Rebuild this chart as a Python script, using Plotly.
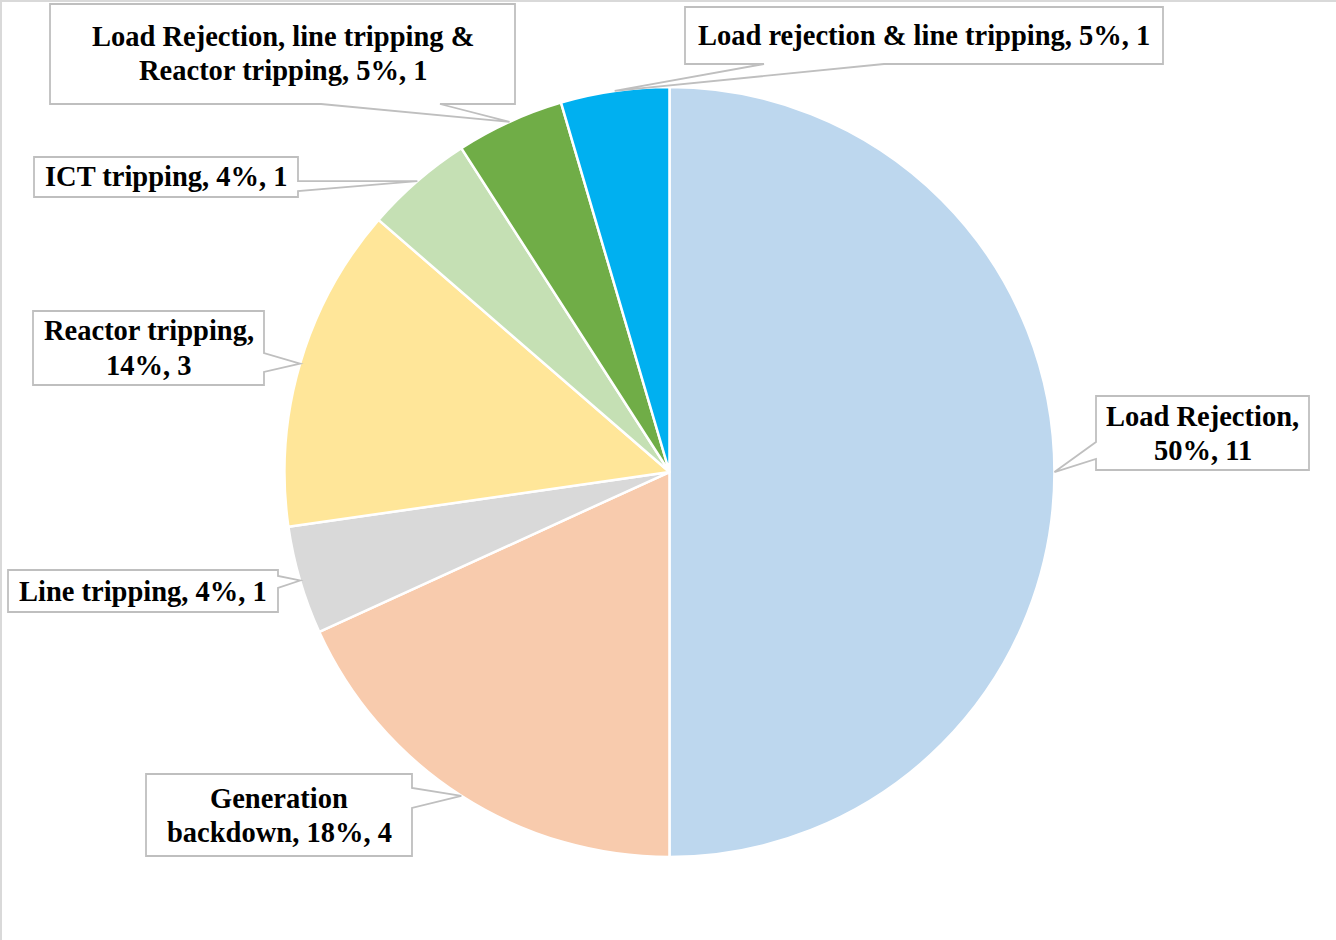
import math
import plotly.graph_objects as go

# ---------------- data ----------------
labels = [
    "Load Rejection",
    "Generation backdown",
    "Line tripping",
    "Reactor tripping",
    "ICT tripping",
    "Load Rejection, line tripping & Reactor tripping",
    "Load rejection & line tripping",
]
values = [11, 4, 1, 3, 1, 1, 1]
pct_labels = ["50%", "18%", "4%", "14%", "4%", "5%", "5%"]
label_text = [
    "Load Rejection,<br>{p}, {v}",
    "Generation<br>backdown, {p}, {v}",
    "Line tripping, {p}, {v}",
    "Reactor tripping,<br>{p}, {v}",
    "ICT tripping, {p}, {v}",
    "Load Rejection, line tripping &<br>Reactor tripping, {p}, {v}",
    "Load rejection & line tripping, {p}, {v}",
]
colors = ["#BDD7EE", "#F8CBAD", "#D9D9D9", "#FFE699", "#C5E0B4", "#70AD47", "#00B0F0"]

# ---------------- layout ----------------
W, H = 1336, 940
dom_x = [0.2126, 0.7896]
dom_y = [0.0883, 0.9074]
FONT_SIZE = 28.5
LINE_GAP = 34

# callout boxes in pixels: x0, y0, x1, y1, edge carrying the pointer, base start, base end
boxes = [
    (1096, 396, 1309, 470, "left", 442, 459),
    (146, 774, 412, 856, "right", 788, 808),
    (8, 570, 278, 612, "right", 576, 588),
    (33, 311, 264, 385, "right", 353, 372),
    (34, 157, 298, 197, "right", 181, 191),
    (50, 4, 515, 104, "bottom", 321, 440),
    (685, 7, 1163, 64, "bottom", 764, 884),
]

cx = (dom_x[0] + dom_x[1]) / 2 * W
cy = (1 - (dom_y[0] + dom_y[1]) / 2) * H
r = min((dom_x[1] - dom_x[0]) * W, (dom_y[1] - dom_y[0]) * H) / 2


def px(x):
    return x / W


def py(y):
    return 1 - y / H


fig = go.Figure(
    go.Pie(
        labels=labels,
        values=values,
        sort=False,
        direction="clockwise",
        rotation=0,
        marker=dict(colors=colors, line=dict(color="white", width=2.5)),
        textinfo="none",
        hoverinfo="label+value+percent",
        domain=dict(x=dom_x, y=dom_y),
        showlegend=False,
    )
)

total = sum(values)
cum = 0
shapes = []
annotations = []
for i, v in enumerate(values):
    mid = (cum + v / 2) / total * 2 * math.pi
    cum += v
    tx = cx + r * math.sin(mid)
    ty = cy - r * math.cos(mid)
    x0, y0, x1, y1, edge, b0, b1 = boxes[i]
    pts = [(x0, y0), (x1, y0)]
    if edge == "right":
        pts += [(x1, b0), (tx, ty), (x1, b1)]
    pts += [(x1, y1)]
    if edge == "bottom":
        pts += [(b1, y1), (tx, ty), (b0, y1)]
    pts += [(x0, y1)]
    if edge == "left":
        pts += [(x0, b1), (tx, ty), (x0, b0)]
    path = "M " + " L ".join(f"{px(a):.5f},{py(b):.5f}" for a, b in pts) + " Z"
    shapes.append(
        dict(
            type="path",
            path=path,
            xref="paper",
            yref="paper",
            fillcolor="white",
            line=dict(color="#BFBFBF", width=1.8),
            layer="above",
        )
    )
    lines = label_text[i].format(p=pct_labels[i], v=v).split("<br>")
    n = len(lines)
    ymid = (y0 + y1) / 2
    for k, line in enumerate(lines):
        yy = ymid + (k - (n - 1) / 2) * LINE_GAP
        annotations.append(
            dict(
                x=px((x0 + x1) / 2),
                y=py(yy),
                xref="paper",
                yref="paper",
                xanchor="center",
                yanchor="middle",
                showarrow=False,
                align="center",
                text="<b>" + line + "</b>",
                font=dict(family="Liberation Serif", size=FONT_SIZE, color="#000000"),
            )
        )

# outer chart frame (top and left edges visible)
shapes.append(dict(type="line", xref="paper", yref="paper", x0=0, x1=1, y0=py(1), y1=py(1),
                   line=dict(color="#D9D9D9", width=2)))
shapes.append(dict(type="line", xref="paper", yref="paper", x0=px(1), x1=px(1), y0=0, y1=1,
                   line=dict(color="#D9D9D9", width=2)))

fig.update_layout(
    width=W,
    height=H,
    margin=dict(l=0, r=0, t=0, b=0),
    paper_bgcolor="white",
    plot_bgcolor="white",
    shapes=shapes,
    annotations=annotations,
)

fig.write_html("out.html")
